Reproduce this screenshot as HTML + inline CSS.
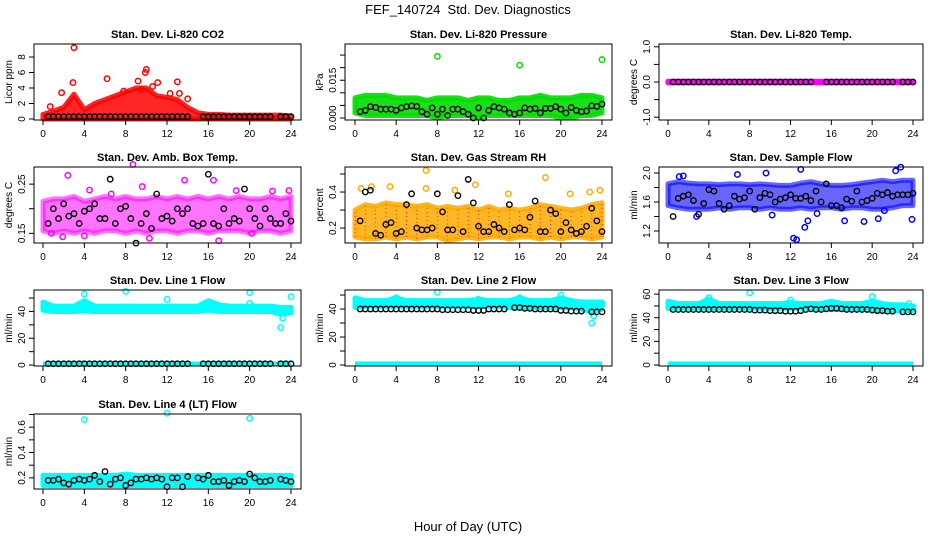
<!DOCTYPE html>
<html><head><meta charset="utf-8">
<style>
html,body{margin:0;padding:0;background:#fff;}
svg{display:block;font-family:"Liberation Sans",Arial,sans-serif;}
</style></head>
<body>
<svg id="chart" width="936" height="540" viewBox="0 0 936 540" xmlns="http://www.w3.org/2000/svg">
<text x="468" y="14" text-anchor="middle" font-size="13">FEF_140724&#160; Std. Dev. Diagnostics</text>
<text x="468" y="531" text-anchor="middle" font-size="13">Hour of Day (UTC)</text>
</svg>
<script>
// shared calibration hours (black points)
const blackHours=[0.5,1,1.5,2,2.5,3,3.5,4,4.5,5,5.5,6,6.5,7,7.5,8,8.5,9,9.5,10,10.5,11,11.5,12,12.5,13,13.5,14,14.5,15,15.5,16,16.5,17,17.5,18,18.5,19,19.5,20,20.5,21,21.5,22,22.5,23,23.5,24];
const bandHours=[0,1,2,3,4,5,6,7,8,9,10,11,12,13,14,15,16,17,18,19,20,21,22,23,24];
const xTicks=[0,4,8,12,16,20,24];

// CO2
const co2Lo=[0,0,0,0,0,0,0,0,0,0,0,0,0,0,0,0,0,0,0,0,0,0,0,0,0];
const co2Hi=[0.6,1,1.5,3.2,1.2,2,2.5,3,3.5,4,4,3,2.8,2.5,1.5,0.8,0.6,0.6,0.5,0.5,0.5,0.5,0.5,0.5,0.4];
const co2OutX=[3,2.9,6.2,10,9.9,9.2,13,11.1,14,0.7,1.8,13.2,12.3,7.8,9.5,10.6];
const co2OutY=[9.2,4.7,5.2,6.4,6.0,4.9,4.8,4.7,2.6,1.6,3.4,3.3,3.3,3.6,3.8,4.2];
const co2Black=[0.3,0.3,0.3,0.3,0.3,0.3,0.3,0.3,0.3,0.3,0.3,0.3,0.3,0.3,0.3,0.3,0.3,0.3,0.3,0.3,0.3,0.3,0.3,0.3,0.3,0.3,0.3,0.3,null,null,0.3,0.3,0.3,0.3,0.3,0.3,0.3,0.3,0.3,0.3,0.3,0.3,0.3,0.3,null,0.3,0.3,0.3];
// Pressure
const prLo=[0.002,0.001,0.001,0.001,0.001,0.001,0.001,0.001,0.0,0.001,0.001,0.001,0.0,0.001,0.001,0.001,0.001,0.001,0.001,0.001,0.0,0.0,0.001,0.001,0.002];
const prHi=[0.008,0.009,0.009,0.009,0.008,0.008,0.008,0.007,0.008,0.008,0.008,0.007,0.008,0.008,0.007,0.007,0.008,0.008,0.009,0.008,0.008,0.008,0.009,0.009,0.008];
const prOutX=[8,16,24];
const prOutY=[0.0245,0.021,0.0232];
const prBlack=[0.0025,0.003,0.0045,0.0042,0.0035,0.0035,0.0035,0.003,0.0040,0.0045,0.0048,0.0046,0.0025,0.0015,0.004,0.0015,0.0035,0.001,0.0035,0.0035,0.0025,0.0015,0.0,0.004,0.0,0.003,0.0045,0.004,0.0035,0.002,0.0015,0.002,0.004,0.0035,0.0038,0.002,0.0038,0.0038,0.0045,0.0035,0.002,0.0042,0.003,0.0025,0.0028,0.0048,0.0046,0.0055];
// Li-820 temp
const tLo=[-0.02,-0.02,-0.02,-0.02,-0.02,-0.02,-0.02,-0.02,-0.02,-0.02,-0.02,-0.02,-0.02,-0.02,-0.02,-0.02,-0.02,-0.02,-0.02,-0.02,-0.02,-0.02,-0.02,-0.02,-0.02];
const tHi=[0.02,0.02,0.02,0.02,0.02,0.02,0.02,0.02,0.02,0.02,0.02,0.02,0.02,0.02,0.02,0.02,0.02,0.02,0.02,0.02,0.02,0.02,0.02,0.02,0.02];
const tBlack=[0,0,0,0,0,0,0,0,0,0,0,0,0,0,0,0,0,0,0,0,0,0,0,0,0,0,0,0,null,null,0,0,0,0,0,0,0,0,0,0,0,0,0,0,null,0,0,0];
// Amb box temp
const abLo=[0.155,0.15,0.155,0.15,0.155,0.15,0.155,0.155,0.15,0.155,0.15,0.155,0.155,0.15,0.155,0.155,0.15,0.155,0.155,0.155,0.15,0.155,0.155,0.15,0.155];
const abHi=[0.215,0.22,0.22,0.225,0.215,0.22,0.225,0.22,0.225,0.22,0.22,0.225,0.22,0.225,0.22,0.225,0.22,0.225,0.22,0.225,0.22,0.22,0.225,0.22,0.225];
const abOutX=[8.7,2.4,4.5,6.6,9.6,13.7,16.5,18.7,22.2,23.8,0.8,4,10.3,17,1.9,20.2];
const abOutY=[0.29,0.268,0.238,0.23,0.245,0.258,0.258,0.237,0.236,0.237,0.15,0.145,0.14,0.135,0.143,0.15];
const abBlack=[0.17,0.2,0.18,0.21,0.185,0.19,0.17,0.195,0.2,0.21,0.18,0.18,0.26,0.17,0.2,0.205,0.18,0.13,0.17,0.19,0.16,0.23,0.18,0.185,0.175,0.2,0.19,0.2,0.17,0.165,0.17,0.27,0.17,0.165,0.2,0.17,0.18,0.175,0.24,0.2,0.18,0.165,0.2,0.18,0.17,0.17,0.19,0.175];
// Gas stream RH
const rhLo=[0.15,0.14,0.14,0.15,0.14,0.15,0.14,0.15,0.15,0.13,0.14,0.15,0.14,0.15,0.15,0.14,0.15,0.15,0.14,0.15,0.14,0.15,0.15,0.14,0.15];
const rhHi=[0.3,0.33,0.32,0.34,0.33,0.33,0.32,0.33,0.31,0.32,0.31,0.32,0.3,0.32,0.3,0.31,0.3,0.31,0.33,0.32,0.31,0.3,0.31,0.33,0.34];
const rhOutX=[6.9,18.5,3.4,0.6,11.7,6.9,9.7,14.9,20.9,23.8,1.6,22.8];
const rhOutY=[0.52,0.48,0.43,0.42,0.44,0.42,0.41,0.39,0.39,0.41,0.43,0.4];
const rhBlack=[0.24,0.4,0.41,0.17,0.16,0.22,0.23,0.17,0.18,0.33,0.39,0.2,0.19,0.19,0.2,0.39,0.29,0.19,0.19,0.38,0.18,0.47,0.34,0.21,0.18,0.18,0.22,0.2,0.18,0.33,0.19,0.2,0.19,0.26,0.35,0.18,0.18,0.3,0.28,0.18,0.23,0.19,0.17,0.18,0.21,0.31,0.24,0.18];
// Sample flow
const sfLo=[1.55,1.52,1.5,1.5,1.5,1.52,1.5,1.52,1.52,1.5,1.52,1.5,1.5,1.52,1.5,1.52,1.52,1.5,1.52,1.52,1.5,1.5,1.52,1.55,1.55];
const sfHi=[1.85,1.88,1.86,1.85,1.85,1.84,1.85,1.85,1.84,1.85,1.84,1.83,1.83,1.86,1.88,1.85,1.83,1.83,1.84,1.86,1.88,1.9,1.88,1.9,1.9];
const sfOutX=[12.3,12.6,13,13.4,13.7,9.6,6.8,1.1,1.5,22.8,22.3,21.2,2.8,14.6,17.3,19.2,20.6,23.9,10.2];
const sfOutY=[1.1,1.08,2.05,1.25,1.34,2.0,1.98,1.95,1.96,2.08,2.03,1.48,1.4,1.44,1.34,1.33,1.37,1.36,1.42];
const sfBlack=[1.4,1.65,1.68,1.7,1.62,1.43,1.58,1.77,1.75,1.58,1.5,1.55,1.68,1.64,1.66,1.75,1.5,1.66,1.72,1.7,1.6,1.64,1.66,1.7,1.65,1.65,1.68,1.62,1.75,1.6,1.85,1.55,1.55,1.52,1.64,1.61,1.75,1.6,1.62,1.65,1.72,1.7,1.73,1.68,1.7,1.7,1.7,1.72];
// Line 1 flow
const l1Lo=[41,40,40,40,40.5,40,40,40,40,40,40,40,40,40,40,40,41,40,40,40,40,40,40,38,39];
const l1Hi=[47,44,44,44,48,44,44,44,44,44,44,44,44,44,44,44,48,45,44,44,44,44,44,43,43];
const l1OutX=[4,8,12,20,20,24,23,23.2];
const l1OutY=[53,55,49,54,46,51,28,35];
const l1Black=[1,1,1,1,1,1,1,1,1,1,1,1,1,1,1,1,1,1,1,1,1,1,1,1,1,1,1,1,null,null,1,1,1,1,1,1,1,1,1,1,1,1,1,1,null,1,1,1];
// Line 2 flow
const l2Lo=[41,42,42,42,42,42,42,42,42,42,42,42,42,42,42,41,41,41,41,41,41,41,40,38,40];
const l2Hi=[48,46,46,46,48,46,46,46,46,46,46,46,47,46,46,46,48,46,46,46,48,46,45,45,45];
const l2OutX=[8,12,16,20,23,23.2,24,4];
const l2OutY=[52,47,48,50,30,35,44,48];
const l2Black=[40,40,40,40,40,40,40,40,40,40,40,40,40,40,40,40,39.5,39.5,39.5,39.5,39.5,39.5,39,39,39,40,40,40,40,null,41,41,40.5,40.5,40,40,40,40,40,39,39,38.5,38.5,38.5,null,38,38,38];
// Line 3 flow
const l3Lo=[48,48,48,48,48,48,48,48,48,48,48,48,48,48,48,47,47,47,47,47,47,46,46,46,46];
const l3Hi=[54,52,52,52,56,52,52,52,52,52,52,52,53,52,52,52,54,52,52,52,54,52,51,51,50];
const l3OutX=[8,4,12,20,23.6,24];
const l3OutY=[61,57,55,58,52,49];
const l3Black=[47,47,47,47,47,47,47,47,47,47,47,47,47,47,47,47,46.5,46.5,46.5,46,46,46,45.5,45.5,45.5,46,47,47.5,47,47,47.5,48,48,47.5,47,47,47,47,47,46.5,46,46,45.5,45.5,null,45,45,45];
// Line 4 flow
const l4Lo=[0.14,0.14,0.14,0.14,0.14,0.14,0.14,0.14,0.14,0.14,0.14,0.14,0.14,0.14,0.14,0.14,0.14,0.14,0.14,0.14,0.14,0.14,0.14,0.14,0.14];
const l4Hi=[0.22,0.22,0.22,0.22,0.22,0.22,0.22,0.22,0.23,0.22,0.22,0.22,0.22,0.22,0.22,0.22,0.22,0.22,0.22,0.22,0.22,0.22,0.22,0.22,0.22];
const l4OutX=[4,12,20];
const l4OutY=[0.66,0.71,0.67];
const l4Black=[0.18,0.18,0.19,0.16,0.15,0.18,0.19,0.18,0.19,0.22,0.17,0.25,0.15,0.19,0.2,0.14,0.16,0.19,0.19,0.2,0.19,0.2,0.19,0.13,0.2,0.2,0.13,0.21,null,0.2,0.19,0.22,0.17,0.17,0.18,0.14,0.17,0.18,0.17,0.23,0.2,0.17,0.17,0.18,null,0.19,0.18,0.17];

const svg=document.getElementById('chart');
const NS='http://www.w3.org/2000/svg';
function mk(tag,attrs,parent){const e=document.createElementNS(NS,tag);for(const k in attrs)e.setAttribute(k,attrs[k]);(parent||svg).appendChild(e);return e;}

const cols=[{l:34,r:301,x0:43,x1:291},{l:345,r:612,x0:355,x1:602},{l:659,r:923,x0:668,x1:913}];
const rows=[{t:44,b:120},{t:167,b:243},{t:290,b:366},{t:414,b:489}];

const panels=[
 {key:'co2',title:'Stan. Dev. Li-820 CO2',ylab:'Licor ppm',c:0,r:0,ylim:[-0.13,9.68],ticks:[0,2,4,6,8],labels:['0','2','4','6','8'],color:'#ff0000',lo:co2Lo,hi:co2Hi,ox:co2OutX,oy:co2OutY,bk:co2Black,op:0.85},
 {key:'pressure',title:'Stan. Dev. Li-820 Pressure',ylab:'kPa',c:1,r:0,ylim:[-0.0008,0.0294],ticks:[0,0.005,0.01,0.015,0.02,0.025],labels:['0.000','','','0.015','',''],color:'#00dd00',lo:prLo,hi:prHi,ox:prOutX,oy:prOutY,bk:prBlack,op:0.9},
 {key:'li820-temp',title:'Stan. Dev. Li-820 Temp.',ylab:'degrees C',c:2,r:0,ylim:[-1.08,1.08],ticks:[-1,-0.5,0,0.5,1],labels:['-1.0','','0.0','','1.0'],color:'#ff00ff',lo:tLo,hi:tHi,ox:[],oy:[],bk:tBlack,op:1},
 {key:'box-temp',title:'Stan. Dev. Amb. Box Temp.',ylab:'degrees C',c:0,r:1,ylim:[0.1304,0.2848],ticks:[0.15,0.2,0.25],labels:['0.15','','0.25'],color:'#ff00ff',lo:abLo,hi:abHi,ox:abOutX,oy:abOutY,bk:abBlack,op:0.55},
 {key:'rh',title:'Stan. Dev. Gas Stream RH',ylab:'percent',c:1,r:1,ylim:[0.117,0.539],ticks:[0.2,0.3,0.4,0.5],labels:['0.2','','0.4',''],color:'#ffaa00',lo:rhLo,hi:rhHi,ox:rhOutX,oy:rhOutY,bk:rhBlack,op:0.85},
 {key:'sample-flow',title:'Stan. Dev. Sample Flow',ylab:'ml/min',c:2,r:1,ylim:[1.034,2.083],ticks:[1.2,1.4,1.6,1.8,2.0],labels:['1.2','','1.6','','2.0'],color:'#0000ff',lo:sfLo,hi:sfHi,ox:sfOutX,oy:sfOutY,bk:sfBlack,op:0.6},
 {key:'line1',title:'Stan. Dev. Line 1 Flow',ylab:'ml/min',c:0,r:2,ylim:[-0.7,56],ticks:[0,10,20,30,40,50],labels:['0','','20','','40',''],color:'#00ffff',lo:l1Lo,hi:l1Hi,ox:l1OutX,oy:l1OutY,bk:l1Black,op:1,zero:true},
 {key:'line2',title:'Stan. Dev. Line 2 Flow',ylab:'ml/min',c:1,r:2,ylim:[-0.7,53.6],ticks:[0,10,20,30,40,50],labels:['0','','20','','40',''],color:'#00ffff',lo:l2Lo,hi:l2Hi,ox:l2OutX,oy:l2OutY,bk:l2Black,op:1,zero:true},
 {key:'line3',title:'Stan. Dev. Line 3 Flow',ylab:'ml/min',c:2,r:2,ylim:[-0.85,63.5],ticks:[0,10,20,30,40,50,60],labels:['0','','20','','40','','60'],color:'#00ffff',lo:l3Lo,hi:l3Hi,ox:l3OutX,oy:l3OutY,bk:l3Black,op:1,zero:true},
 {key:'line4',title:'Stan. Dev. Line 4 (LT) Flow',ylab:'ml/min',c:0,r:3,ylim:[0.112,0.704],ticks:[0.2,0.3,0.4,0.5,0.6,0.7],labels:['0.2','','0.4','','0.6',''],color:'#00ffff',lo:l4Lo,hi:l4Hi,ox:l4OutX,oy:l4OutY,bk:l4Black,op:1}
];

panels.forEach(p=>{
  const C=cols[p.c],R=rows[p.r];
  const xs=h=>C.x0+(C.x1-C.x0)*h/24;
  const ys=v=>R.b-(R.b-R.t)*(v-p.ylim[0])/(p.ylim[1]-p.ylim[0]);
  const g=mk('g',{});
  
  
  const cx=(C.l+C.r)/2;
  const t=mk('text',{x:cx,y:R.t-6,'text-anchor':'middle','font-size':'11','font-weight':'bold'},g);
  t.textContent=p.title;
  
  
  let pts=[];
  bandHours.forEach((h,i)=>pts.push(xs(h)+','+ys(p.hi[i])));
  for(let i=bandHours.length-1;i>=0;i--)pts.push(xs(bandHours[i])+','+ys(p.lo[i]));
  const band=mk('polygon',{points:pts.join(' '),fill:p.color,stroke:p.color,'stroke-width':'5','stroke-linejoin':'round','fill-opacity':p.op,'stroke-opacity':p.op},g);
  
  
  if(p.key==='rh'){
    bandHours.forEach((h,i)=>{const d=mk('line',{x1:xs(h),x2:xs(h),y1:ys(p.lo[i]),y2:ys(p.hi[i]),stroke:'#ff3300','stroke-width':'1','stroke-dasharray':'1 3'},g);
      
      });
  }
  if(p.zero){
    const z=mk('line',{x1:xs(0),x2:xs(24),y1:ys(0.8),y2:ys(0.8),stroke:p.color,'stroke-width':'5'},g);
    
    
  }
  p.ox.forEach((x,i)=>{
    const c=mk('circle',{cx:xs(x),cy:ys(p.oy[i]),r:2.7,fill:'none',stroke:p.color,'stroke-width':'1.5'},g);
    
    
  });
  blackHours.forEach((h,i)=>{
    const v=p.bk[i]; if(v===null||v===undefined)return;
    const c=mk('circle',{cx:xs(h),cy:ys(v),r:2.7,fill:'none',stroke:'#000','stroke-width':'1.4'},g);
    
    
  });
  const b=mk('rect',{x:C.l,y:R.t,width:C.r-C.l,height:R.b-R.t,fill:'none',stroke:'#000','stroke-width':'1'},g);
  
  
  const xa=mk('g',{},g);
  
  
  xTicks.forEach(v=>{
    mk('line',{x1:xs(v),x2:xs(v),y1:R.b,y2:R.b+5,stroke:'#000'},xa);
    const tl=mk('text',{x:xs(v),y:R.b+17,'text-anchor':'middle','font-size':'10'},xa);
    tl.textContent=v;
  });
  const ya=mk('g',{},g);
  
  
  p.ticks.forEach((v,i)=>{
    mk('line',{x1:C.l,x2:C.l-5,y1:ys(v),y2:ys(v),stroke:'#000'},ya);
    if(p.labels[i]){
      const tl=mk('text',{x:C.l-9,y:ys(v),'text-anchor':'middle','font-size':'10',transform:`rotate(-90 ${C.l-9} ${ys(v)})`},ya);
      tl.textContent=p.labels[i];
    }
  });
  const yl=mk('text',{x:C.l-22,y:(R.t+R.b)/2,'text-anchor':'middle','font-size':'10',transform:`rotate(-90 ${C.l-22} ${(R.t+R.b)/2})`},g);
  yl.textContent=p.ylab;
  
  
});
</script>
</body></html>
